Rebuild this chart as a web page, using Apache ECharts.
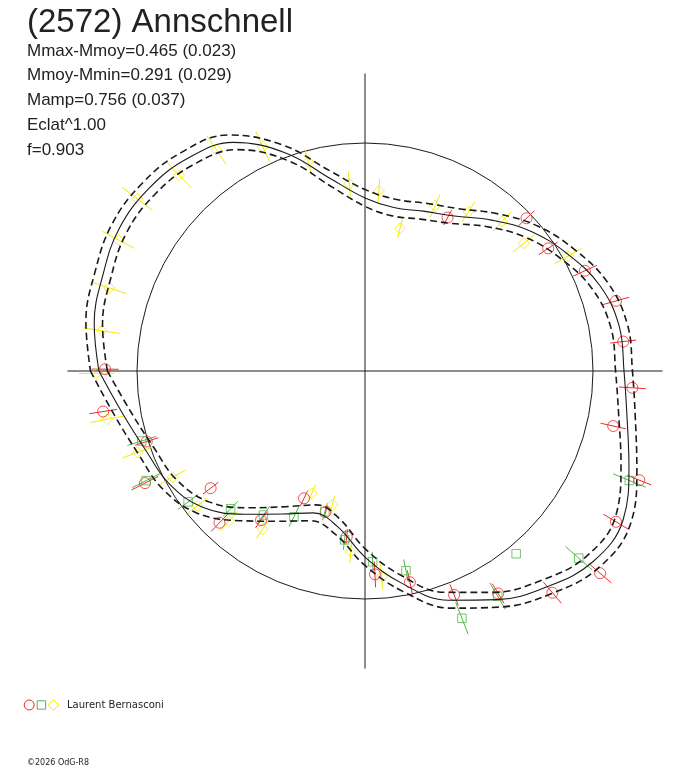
<!DOCTYPE html>
<html><head><meta charset="utf-8">
<script src="https://cdn.jsdelivr.net/npm/echarts@6/dist/echarts.min.js"></script>
<style>html,body{margin:0;padding:0;background:#fff}#c{width:688px;height:768px}</style>
</head><body><div id="c"></div>
<script>
// ---- data ----
const titleText = '(2572) Annschnell';
const statLines = ['Mmax-Mmoy=0.465 (0.023)', 'Mmoy-Mmin=0.291 (0.029)', 'Mamp=0.756 (0.037)', 'Eclat^1.00', 'f=0.903'];
const observer = 'Laurent Bernasconi';
const copyright = '\u00a92026 OdG-R8';

// model curve: phase angle (deg) and radius (unit circle = 1)
const curveAngle  = [-180,-170,-160,-150,-140,-130,-120,-110,-100,-90,-80,-70,-60,-50,-40,-30,-20,-10,0,10,20,30,40,50,60,70,80,90,100,110,120,130,140,150,160,170];
const curveRadius = [1.167,1.079,1.022,0.991,0.930,0.820,0.724,0.662,0.693,0.816,0.947,1.070,1.158,1.237,1.303,1.307,1.232,1.167,1.136,1.132,1.096,1.026,0.952,0.864,0.785,0.746,0.728,0.759,0.855,1.018,1.158,1.215,1.241,1.246,1.224,1.206];
const curveBand = 0.037;

// observations: [angle, radius, error]
const redObs = [[61.7,0.764,0.037],[43.4,0.975,0.048],[33.8,0.967,0.050],[24.5,1.060,0.057],[15.6,1.143,0.059],[6.5,1.140,0.057],[-3.6,1.175,0.059],[-12.5,1.115,0.057],[-21.7,1.295,0.057],[-31.0,1.284,0.064],[-40.7,1.360,0.066],[-49.8,1.273,0.061],[-59.1,1.137,0.050],[-68.3,1.057,0.050],[-78.0,0.947,0.053],[-87.2,0.893,0.057],[-96.3,0.731,0.033],[-105.6,0.641,0.029],[-115.6,0.619,0.037],[-124.9,0.797,0.042],[-133.8,0.922,0.053],[-142.8,0.850,0.042],[-153.0,1.083,0.066],[-162.1,1.006,0.053],[-171.2,1.162,0.061],[179.6,1.140,0.059]];
const greenObs = [[-22.5,1.255,0.077],[-41.2,1.246,0.077],[-50.4,1.040,0],[-59.5,1.146,0.068],[-68.6,1.165,0.075],[-78.4,0.894,0.050],[-87.7,0.837,0.042],[-96.9,0.746,0.044],[-105.9,0.642,0.039],[-116.0,0.711,0.048],[-125.2,0.773,0.048],[-134.3,0.844,0.046],[-143.5,0.965,0.055],[-153.4,1.074,0.068],[-162.6,1.026,0.066]];
const yellowObs = [[29.5,1.024,0.068],[38.8,0.894,0.059],[47.5,0.889,0.059],[57.0,0.833,0.053],[67.0,0.786,0.053],[76.2,0.644,0.042],[85.6,0.792,0.053],[94.8,0.823,0.055],[105.2,0.951,0.057],[114.5,1.081,0.072],[123.9,1.167,0.075],[133.5,1.185,0.077],[142.9,1.252,0.083],[152.0,1.225,0.079],[162.0,1.179,0.079],[171.3,1.168,0.079],[-179.5,1.177,0.077],[-169.4,1.150,0.077],[-160.3,1.060,0.070],[-151.1,0.964,0.066],[-141.2,0.943,0.053],[-132.2,0.888,0.057],[-122.9,0.827,0.048],[-113.5,0.585,0.040],[-103.7,0.605,0.040],[-94.5,0.795,0.048],[-85.4,0.905,0.055]];

// ---- chart ----
const RED = '#f02828', GREEN = '#4db848', YELLOW = '#f2ea00', INK = '#1a1a1a';
const CENTER = [365, 371], UNIT = 228, AXIS_R = 1.305, DATA_MAX = 1.5;
const norm = a => ((a % 360) + 360) % 360;
const curveData = off => {
  const d = curveAngle.map((a, i) => [curveRadius[i] + off, norm(a)]);
  d.push(d[0]);
  return d;
};
const obsData = arr => arr.map(o => [o[1], norm(o[0]), o[2]]);

const hiddenAngle = i => ({polarIndex: i, startAngle: 0, clockwise: false, min: 0, max: 360,
  axisLine: {show: false}, axisTick: {show: false}, axisLabel: {show: false}, splitLine: {show: false}});

const errSeries = (arr, color) => ({
  type: 'custom', coordinateSystem: 'polar', polarIndex: 2, silent: true, clip: false,
  data: obsData(arr),
  encode: {radius: 0, angle: 1},
  renderItem: (params, api) => {
    const r = api.value(0), a = api.value(1), e = api.value(2);
    const p1 = api.coord([r - e, a]), p2 = api.coord([r + e, a]);
    return {type: 'line', shape: {x1: p1[0], y1: p1[1], x2: p2[0], y2: p2[1]}, style: {stroke: color, lineWidth: 1}};
  }
});
const markSeries = (arr, color, symbol, size) => ({
  type: 'scatter', coordinateSystem: 'polar', polarIndex: 2, silent: true, clip: false,
  data: obsData(arr).map(d => [d[0], d[1]]),
  symbol: symbol, symbolSize: size,
  itemStyle: {color: 'rgba(0,0,0,0)', borderColor: color, borderWidth: 1}
});
const lineSeries = (off, dashed) => ({
  type: 'line', coordinateSystem: 'polar', polarIndex: 2, silent: true, clip: false,
  data: curveData(off), smooth: 0.4, showSymbol: false, symbol: 'none',
  lineStyle: {color: INK, width: dashed ? 1.6 : 1.1, type: dashed ? [7, 4] : 'solid'}
});

const FONT = '"Liberation Sans", Arial, sans-serif';
const graphics = [
  {type: 'text', style: {x: 27, y: 22.5, text: titleText, font: '33px ' + FONT, fill: '#222', verticalAlign: 'middle'}},
  ...statLines.map((t, i) => ({type: 'text', style: {x: 27, y: 51 + i * 24.75, text: t, font: '17px ' + FONT, fill: '#222', verticalAlign: 'middle'}})),
  {type: 'circle', shape: {cx: 29.2, cy: 705, r: 5}, style: {fill: 'none', stroke: RED, lineWidth: 1}},
  {type: 'rect', shape: {x: 37.2, y: 700.8, width: 8.4, height: 8.4}, style: {fill: 'none', stroke: GREEN, lineWidth: 1}},
  {type: 'polygon', shape: {points: [[53.5, 699.7], [58.8, 705], [53.5, 710.3], [48.2, 705]]}, style: {fill: 'none', stroke: YELLOW, lineWidth: 1}},
  {type: 'text', style: {x: 67, y: 705, text: observer, font: '10px "DejaVu Sans", sans-serif', fill: '#222', verticalAlign: 'middle'}},
  {type: 'text', style: {x: 27, y: 763, text: copyright, font: '8px "DejaVu Sans", sans-serif', fill: '#222', verticalAlign: 'middle'}}
];

const chart = echarts.init(document.getElementById('c'));
chart.setOption({
  animation: false,
  backgroundColor: '#fff',
  polar: [
    {center: CENTER, radius: UNIT},
    {center: CENTER, radius: UNIT * AXIS_R},
    {center: CENTER, radius: UNIT * DATA_MAX}
  ],
  angleAxis: [
    Object.assign(hiddenAngle(0), {axisLine: {show: true, lineStyle: {color: INK, width: 1}}}),
    Object.assign(hiddenAngle(1), {interval: 90, splitLine: {show: true, lineStyle: {color: INK, width: 1}}}),
    hiddenAngle(2)
  ],
  radiusAxis: [
    {polarIndex: 0, min: 0, max: 1, show: false},
    {polarIndex: 1, min: 0, max: AXIS_R, show: false},
    {polarIndex: 2, min: 0, max: DATA_MAX, show: false}
  ],
  graphic: graphics,
  series: [
    lineSeries(0, false),
    lineSeries(curveBand, true),
    lineSeries(-curveBand, true),
    errSeries(yellowObs, YELLOW),
    errSeries(redObs, RED),
    errSeries(greenObs, GREEN),
    markSeries(yellowObs, YELLOW, 'diamond', [11, 11]),
    markSeries(redObs, RED, 'circle', 11),
    markSeries(greenObs, GREEN, 'rect', 8.5)
  ]
});
</script>
</body></html>
